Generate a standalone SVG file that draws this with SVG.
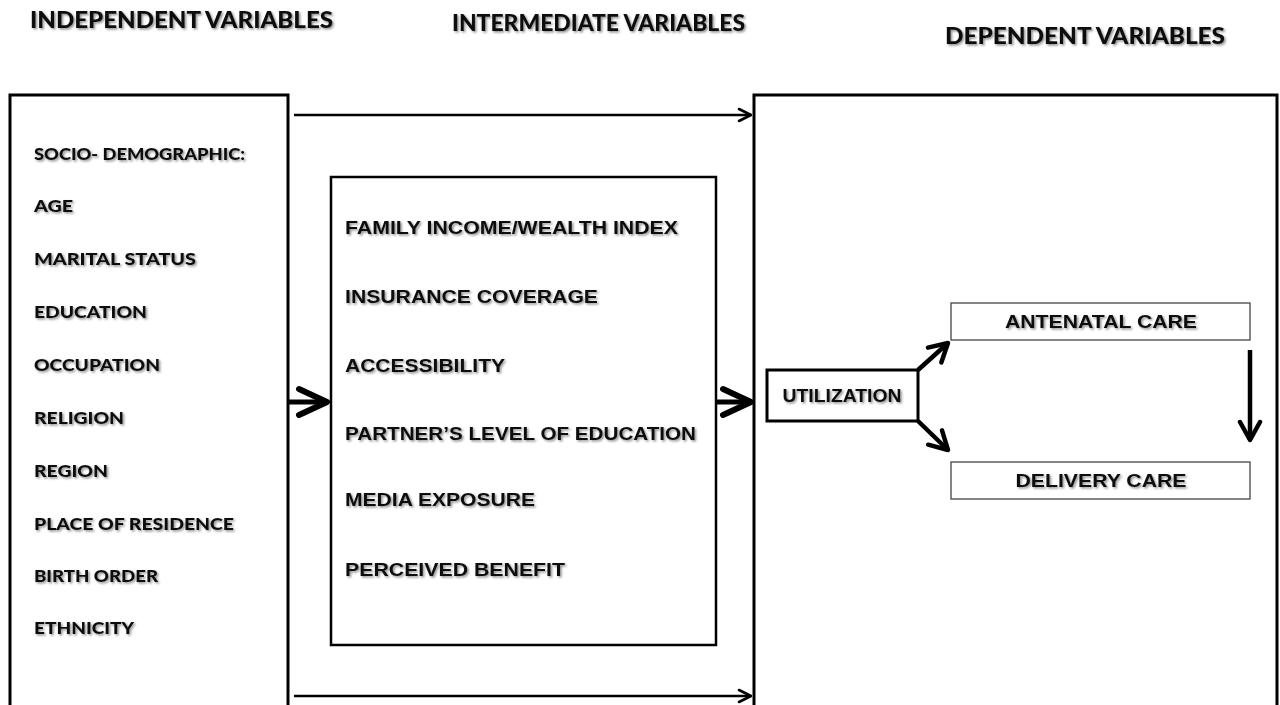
<svg xmlns="http://www.w3.org/2000/svg" width="1280" height="705" viewBox="0 0 1280 705">
  <defs>
    <filter id="shadow" x="-5%" y="-30%" width="110%" height="160%">
      <feDropShadow dx="1.5" dy="1.5" stdDeviation="1.2" flood-color="#000" flood-opacity="0.45"/>
    </filter>
    <marker id="thin" viewBox="0 0 16 16" refX="15" refY="8" markerWidth="16" markerHeight="16" markerUnits="userSpaceOnUse" orient="auto">
      <path d="M3,2 L15,8 L3,14" fill="none" stroke="#000" stroke-width="2.6" stroke-linecap="round" stroke-linejoin="round"/>
    </marker>
    <marker id="bold" viewBox="0 0 36 34" refX="33" refY="17" markerWidth="36" markerHeight="34" markerUnits="userSpaceOnUse" orient="auto">
      <path d="M5,4 L33,17 L5,30" fill="none" stroke="#000" stroke-width="6" stroke-linecap="round" stroke-linejoin="round"/>
    </marker>
    <marker id="mid" viewBox="0 0 26 26" refX="23" refY="13" markerWidth="26" markerHeight="26" markerUnits="userSpaceOnUse" orient="auto">
      <path d="M5,3 L23,13 L5,23" fill="none" stroke="#000" stroke-width="4.5" stroke-linecap="round" stroke-linejoin="round"/>
    </marker>
  </defs>
  <style>
    .frame { fill: #fff; stroke: #000; stroke-width: 3; }
    .inner { fill: #fff; stroke: #000; stroke-width: 2.5; }
    .outcome { fill: #fff; stroke: #444; stroke-width: 1.3; }
    .head { font-family: "Lato", "Liberation Sans", sans-serif; font-weight: 900; font-size: 23px; fill: #111; filter: url(#shadow); }
    .cal { font-family: "Lato", "Liberation Sans", sans-serif; font-weight: 900; font-size: 17px; fill: #111; filter: url(#shadow); }
    .ari { font-family: "Liberation Sans", Arial, sans-serif; font-weight: bold; font-size: 18px; fill: #111; filter: url(#shadow); }
    .ari-c { font-family: "Liberation Sans", Arial, sans-serif; font-weight: bold; font-size: 18px; fill: #111; filter: url(#shadow); text-anchor: middle; }
    .link { fill: none; stroke: #000; stroke-width: 2.5; }
    .heavy { fill: none; stroke: #000; stroke-width: 5; }
    .medium { fill: none; stroke: #000; stroke-width: 4.5; }
  </style>
  <rect width="1280" height="705" fill="#fff"/>

  <!-- column headings -->
  <g id="headings">
    <text class="head" x="30" y="28" textLength="303" lengthAdjust="spacingAndGlyphs">INDEPENDENT VARIABLES</text>
    <text class="head" x="452" y="31" font-size="21" textLength="293" lengthAdjust="spacingAndGlyphs">INTERMEDIATE VARIABLES</text>
    <text class="head" x="945" y="44" textLength="280" lengthAdjust="spacingAndGlyphs">DEPENDENT VARIABLES</text>
  </g>

  <!-- independent variables -->
  <g id="independent">
    <rect class="frame" x="10" y="95" width="278" height="640"/>
    <text class="cal" x="34" y="160" textLength="211" lengthAdjust="spacingAndGlyphs">SOCIO- DEMOGRAPHIC:</text>
    <text class="cal" x="34" y="212" textLength="39" lengthAdjust="spacingAndGlyphs">AGE</text>
    <text class="cal" x="34" y="265" textLength="162" lengthAdjust="spacingAndGlyphs">MARITAL STATUS</text>
    <text class="cal" x="34" y="318" textLength="113" lengthAdjust="spacingAndGlyphs">EDUCATION</text>
    <text class="cal" x="34" y="371" textLength="126" lengthAdjust="spacingAndGlyphs">OCCUPATION</text>
    <text class="cal" x="34" y="424" textLength="90" lengthAdjust="spacingAndGlyphs">RELIGION</text>
    <text class="cal" x="34" y="477" textLength="74" lengthAdjust="spacingAndGlyphs">REGION</text>
    <text class="cal" x="34" y="530" textLength="200" lengthAdjust="spacingAndGlyphs">PLACE OF RESIDENCE</text>
    <text class="cal" x="34" y="582" textLength="124" lengthAdjust="spacingAndGlyphs">BIRTH ORDER</text>
    <text class="cal" x="34" y="634" textLength="100" lengthAdjust="spacingAndGlyphs">ETHNICITY</text>
  </g>

  <!-- intermediate variables -->
  <g id="intermediate">
    <rect class="inner" x="331" y="177" width="385" height="468"/>
    <text class="ari" x="345" y="234" textLength="333" lengthAdjust="spacingAndGlyphs">FAMILY INCOME/WEALTH INDEX</text>
    <text class="ari" x="345" y="303" textLength="253" lengthAdjust="spacingAndGlyphs">INSURANCE COVERAGE</text>
    <text class="ari" x="345" y="372" textLength="160" lengthAdjust="spacingAndGlyphs">ACCESSIBILITY</text>
    <text class="ari" x="345" y="440" textLength="351" lengthAdjust="spacingAndGlyphs">PARTNER’S LEVEL OF EDUCATION</text>
    <text class="ari" x="345" y="506" textLength="190" lengthAdjust="spacingAndGlyphs">MEDIA EXPOSURE</text>
    <text class="ari" x="345" y="576" textLength="220" lengthAdjust="spacingAndGlyphs">PERCEIVED BENEFIT</text>
  </g>

  <!-- dependent variables -->
  <g id="dependent">
    <rect class="frame" x="754" y="95" width="523" height="640"/>
  </g>

  <g id="utilization">
    <rect class="frame" x="767" y="370" width="151" height="51"/>
    <text class="ari-c" x="842" y="402" textLength="119" lengthAdjust="spacingAndGlyphs">UTILIZATION</text>
  </g>

  <g id="antenatal-care">
    <rect class="outcome" x="951" y="303" width="299" height="37"/>
    <text class="ari-c" x="1101" y="328" textLength="192" lengthAdjust="spacingAndGlyphs">ANTENATAL CARE</text>
  </g>

  <g id="delivery-care">
    <rect class="outcome" x="951" y="462" width="299" height="37"/>
    <text class="ari-c" x="1101" y="487" textLength="171" lengthAdjust="spacingAndGlyphs">DELIVERY CARE</text>
  </g>

  <!-- connectors -->
  <g id="connectors">
    <line class="link" x1="294" y1="115" x2="751" y2="115" marker-end="url(#thin)"/>
    <line class="link" x1="294" y1="696" x2="751" y2="696" marker-end="url(#thin)"/>
    <line class="heavy" x1="289" y1="402" x2="327" y2="402" marker-end="url(#bold)"/>
    <line class="heavy" x1="717" y1="402" x2="751" y2="402" marker-end="url(#bold)"/>
    <line class="medium" x1="918" y1="370" x2="948" y2="343" marker-end="url(#mid)"/>
    <line class="medium" x1="918" y1="421" x2="948" y2="450" marker-end="url(#mid)"/>
    <line class="medium" x1="1250" y1="350" x2="1250" y2="440" marker-end="url(#mid)"/>
  </g>
</svg>
